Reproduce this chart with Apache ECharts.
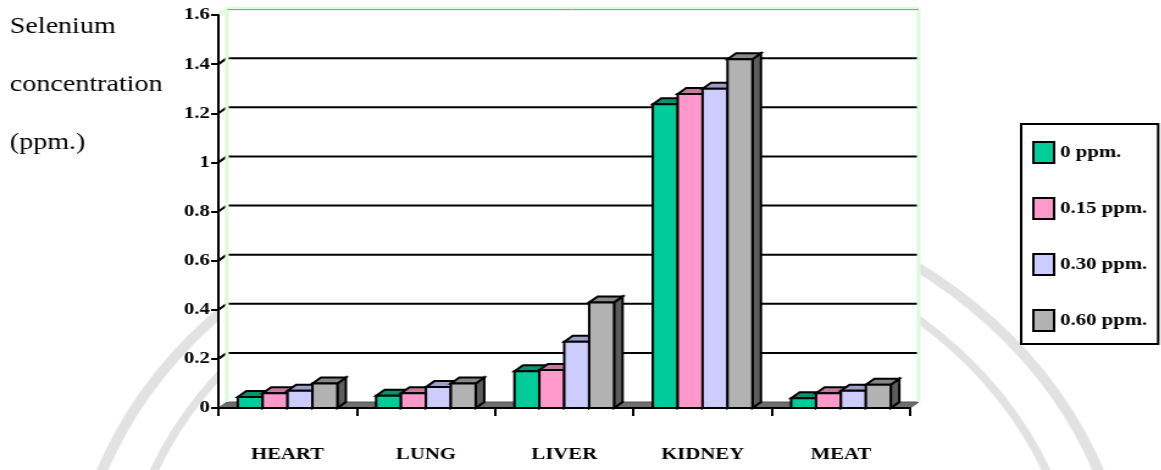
<!DOCTYPE html>
<html>
<head>
<meta charset="utf-8">
<script src="https://cdn.jsdelivr.net/npm/echarts@6/dist/echarts.min.js"></script>
<style>
  html, body { margin: 0; padding: 0; background: #fff; overflow: hidden; }
  /* the chart is laid out narrow and stretched sideways to the page width */
  #chart { width: 952px; height: 470px; transform: scaleX(1.22); transform-origin: 0 0; }
</style>
</head>
<body>
<div id="chart"></div>
<script>
// Selenium concentration (ppm.) in tissues, by dietary selenium level
const categories = ['HEART', 'LUNG', 'LIVER', 'KIDNEY', 'MEAT'];
const seriesNames = ['0 ppm.', '0.15 ppm.', '0.30 ppm.', '0.60 ppm.'];
const se0 = [0.045, 0.05, 0.15, 1.237, 0.04];
const se015 = [0.06, 0.06, 0.155, 1.278, 0.06];
const se030 = [0.07, 0.085, 0.27, 1.30, 0.07];
const se060 = [0.10, 0.10, 0.43, 1.42, 0.095];
const yTicks = [0, 0.2, 0.4, 0.6, 0.8, 1, 1.2, 1.4, 1.6];
const axisTitle = ['Selenium', 'concentration', '(ppm.)'];

const seriesValues = [se0, se015, se030, se060];
const palette = [
  { front: '#00CC99', top: '#00956F', side: '#006B50' },
  { front: '#FF99CC', top: '#C47A9E', side: '#99607C' },
  { front: '#CCCCFF', top: '#9E9ECC', side: '#7A7A9E' },
  { front: '#B2B2B2', top: '#878787', side: '#5C5C5C' }
];
const DX = 7, DY = 6;          // depth of the pseudo-3D view
const BAR_SHARE = 0.18;        // bar width as share of a category
const SERIF = '"Liberation Serif", "Times New Roman", serif';
const WALL = '#DDFADD';

// back wall, floor, gridlines and their connectors to the axis
function renderFrame(params, api) {
  const cs = params.coordSys;
  const x0 = cs.x, x1 = cs.x + cs.width;
  const v = api.value(1);
  const y = api.coord([0, v])[1];
  const yFloor = api.coord([0, 0])[1];
  const ymax = yTicks[yTicks.length - 1];
  const kids = [];
  if (v === 0) {
    kids.push({ type: 'polygon', shape: { points: [[x0, y], [x0 + DX, y - DY], [x1 + DX, y - DY], [x1, y]] },
      style: { fill: '#6E6E6E', stroke: '#555', lineWidth: 1 } });
  } else if (v === ymax) {
    kids.push({ type: 'rect', shape: { x: x0, y: y - DY, width: x1 - x0 + DX, height: yFloor - y + DY },
      style: { fill: '#fff' }, z2: -5 });
    kids.push({ type: 'line', shape: { x1: x0 + DX, y1: y - DY, x2: x0 + DX, y2: yFloor - DY }, style: { stroke: WALL, lineWidth: 3 } });
    kids.push({ type: 'line', shape: { x1: x1 + DX, y1: y - DY, x2: x1 + DX, y2: yFloor - DY }, style: { stroke: WALL, lineWidth: 3 } });
    kids.push({ type: 'line', shape: { x1: x0 + DX, y1: y - DY, x2: x1 + DX, y2: y - DY }, style: { stroke: WALL, lineWidth: 4 } });
    kids.push({ type: 'line', shape: { x1: x0 + DX, y1: y - DY + 0.5, x2: x1 + DX, y2: y - DY + 0.5 }, style: { stroke: '#9A9A9A', lineWidth: 1 } });
    kids.push({ type: 'line', shape: { x1: x0, y1: y, x2: x0 + DX, y2: y - DY }, style: { stroke: WALL, lineWidth: 3 } });
  } else {
    kids.push({ type: 'line', shape: { x1: x0 + DX, y1: y - DY, x2: x1 + DX, y2: y - DY }, style: { stroke: '#000', lineWidth: 2 } });
    kids.push({ type: 'line', shape: { x1: x0, y1: y, x2: x0 + DX, y2: y - DY }, style: { stroke: '#000', lineWidth: 2 } });
  }
  return { type: 'group', children: kids };
}

// one pseudo-3D bar: side, top and front face
function barRenderer(k) {
  return function (params, api) {
    const i = api.value(0), v = api.value(1);
    const top = api.coord([i, v]);
    const base = api.coord([i, 0]);
    const bw = api.size([1, 0])[0] * BAR_SHARE;
    const x = top[0] - 2 * bw + k * bw;
    const yT = top[1], yB = base[1];
    const c = palette[k];
    const edge = { stroke: '#000', lineWidth: 2, lineJoin: 'miter' };
    return {
      type: 'group',
      children: [
        { type: 'polygon', shape: { points: [[x + bw, yT], [x + bw + DX, yT - DY], [x + bw + DX, yB - DY], [x + bw, yB]] },
          style: Object.assign({ fill: c.side }, edge) },
        { type: 'polygon', shape: { points: [[x, yT], [x + DX, yT - DY], [x + bw + DX, yT - DY], [x + bw, yT]] },
          style: Object.assign({ fill: c.top }, edge) },
        { type: 'rect', shape: { x: x, y: yT, width: bw, height: yB - yT },
          style: Object.assign({ fill: c.front }, edge) }
      ]
    };
  };
}

const series = [{
  name: 'frame',
  type: 'custom',
  renderItem: renderFrame,
  data: yTicks.map(v => [0, v]),
  encode: { x: 0, y: 1 },
  z: 1,
  silent: true
}].concat(seriesNames.map((name, k) => ({
  name: name,
  type: 'custom',
  renderItem: barRenderer(k),
  data: seriesValues[k].map((v, i) => [i, v]),
  encode: { x: 0, y: 1 },
  itemStyle: { color: palette[k].front },
  z: 3
})));

const chart = echarts.init(document.getElementById('chart'), null, { renderer: 'canvas' });
chart.setOption({
  backgroundColor: '#fff',
  animation: false,
  grid: { left: 179, right: 206, top: 15, bottom: 62, containLabel: false },
  xAxis: {
    type: 'category',
    data: categories,
    z: 5,
    axisLine: { lineStyle: { color: '#000', width: 2 } },
    axisTick: { show: true, length: 8, lineStyle: { color: '#000', width: 2 } },
    axisLabel: { color: '#000', fontFamily: SERIF, fontWeight: 'bold', fontSize: 17, margin: 38 },
    splitLine: { show: false }
  },
  yAxis: {
    type: 'value',
    min: 0, max: 1.6, interval: 0.2,
    z: 5,
    axisLine: { show: true, lineStyle: { color: '#000', width: 2 } },
    axisTick: { show: true, length: 6, lineStyle: { color: '#000', width: 2 } },
    axisLabel: { color: '#000', fontFamily: SERIF, fontWeight: 'bold', fontSize: 17, margin: 7 },
    splitLine: { show: false }
  },
  legend: {
    orient: 'vertical',
    left: 837, top: 124,
    padding: [17, 9, 12, 9],
    itemGap: 33,
    itemWidth: 17, itemHeight: 21,
    icon: 'rect',
    backgroundColor: '#fff',
    borderColor: '#000', borderWidth: 2,
    itemStyle: { borderColor: '#000', borderWidth: 2 },
    textStyle: { color: '#000', fontFamily: SERIF, fontWeight: 'bold', fontSize: 17 },
    data: seriesNames
  },
  graphic: [
    // faint seal ring behind the chart
    { type: 'circle', shape: { cx: 492, cy: 612, r: 432 }, style: { fill: 'none', stroke: '#E2E2E2', lineWidth: 9 }, z: 0, silent: true },
    { type: 'circle', shape: { cx: 492, cy: 612, r: 392 }, style: { fill: 'none', stroke: '#E2E2E2', lineWidth: 7 }, z: 0, silent: true }
  ].concat(axisTitle.map((t, i) => ({
    type: 'text',
    x: 8, y: 27 + i * 58,
    z: 10,
    style: { text: t, fontFamily: SERIF, fontSize: 23, fill: '#000', align: 'left', verticalAlign: 'middle' }
  }))),
  series: series
});
</script>
</body>
</html>
